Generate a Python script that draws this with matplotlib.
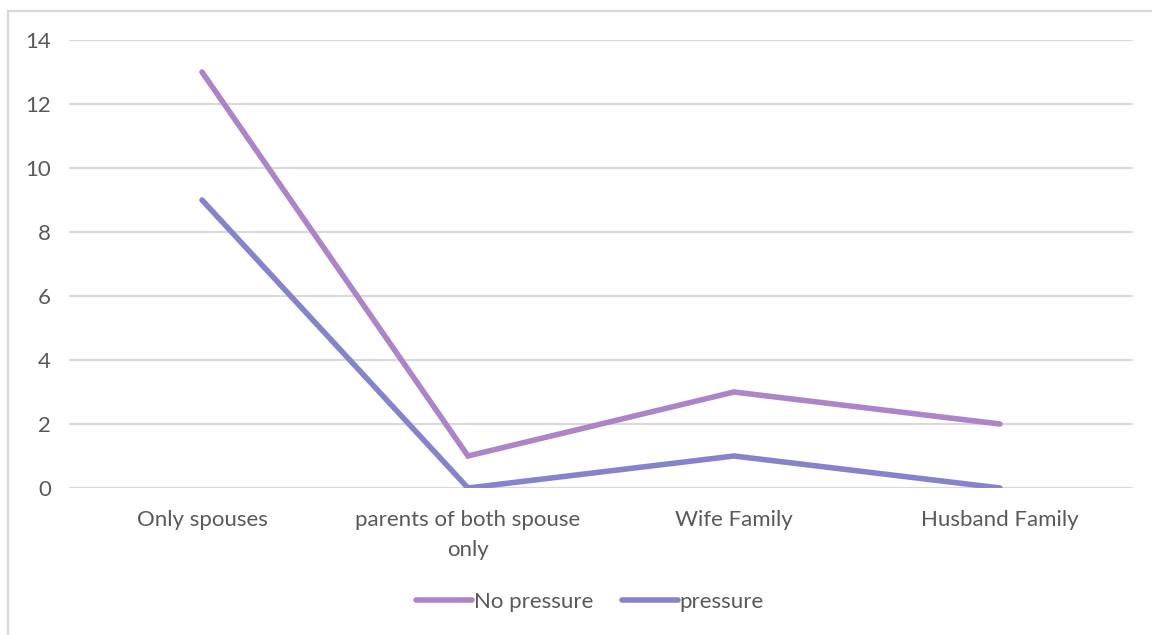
import numpy as np
import matplotlib.pyplot as plt
from matplotlib.lines import Line2D

plt.rcParams['font.family'] = ['Lato', 'DejaVu Sans']

# categories and series
categories = ['Only spouses', 'parents of both spouse\nonly', 'Wife Family', 'Husband Family']
no_pressure = [13, 1, 3, 2]
pressure = [9, 0, 1, 0]
y_ticks = [0, 2, 4, 6, 8, 10, 12, 14]

text_col = '#595959'
grid_col = '#d9d9d9'
fs = 16
lw = 4.0

fig = plt.figure(figsize=(11.52, 6.35), dpi=100)
ax = fig.add_axes([69 / 1152, 1 - 488 / 635, (1133 - 69) / 1152, (488 - 40) / 635])

x = np.arange(len(categories))
ax.plot(x, no_pressure, color='#ad84c8', lw=lw, solid_capstyle='round',
        solid_joinstyle='miter', label='No pressure', zorder=3)
ax.plot(x, pressure, color='#8584cb', lw=lw, solid_capstyle='round',
        solid_joinstyle='miter', label='pressure', zorder=3)

ax.set_xlim(-0.5, len(categories) - 0.5)
ax.set_ylim(0, 14)
ax.set_yticks(y_ticks)
ax.set_yticklabels([str(v) for v in y_ticks])
ax.set_xticks(x)
ax.set_xticklabels(categories, linespacing=1.6)
ax.grid(axis='y', color=grid_col, lw=1.6)
ax.set_axisbelow(True)
for s in ax.spines.values():
    s.set_visible(False)
ax.tick_params(length=0, labelsize=fs, colors=text_col)
ax.tick_params(axis='x', pad=16)
ax.tick_params(axis='y', pad=13)

# legend
handles = [Line2D([], [], color='#ad84c8', lw=lw, solid_capstyle='round'),
           Line2D([], [], color='#8584cb', lw=lw, solid_capstyle='round')]
fig.legend(handles, ['No pressure', 'pressure'], loc='center',
           bbox_to_anchor=(590 / 1152, 1 - 602 / 635), ncol=2, frameon=False,
           fontsize=fs, labelcolor=text_col, handlelength=2.5,
           handletextpad=0.1, columnspacing=1.3)

# chart border
fig.add_artist(Line2D([8 / 1152, 1.0], [1 - 11 / 635] * 2, color=grid_col, lw=1.6))
fig.add_artist(Line2D([8 / 1152] * 2, [0, 1 - 11 / 635], color=grid_col, lw=1.6))

fig.savefig('out.png', dpi=100)
